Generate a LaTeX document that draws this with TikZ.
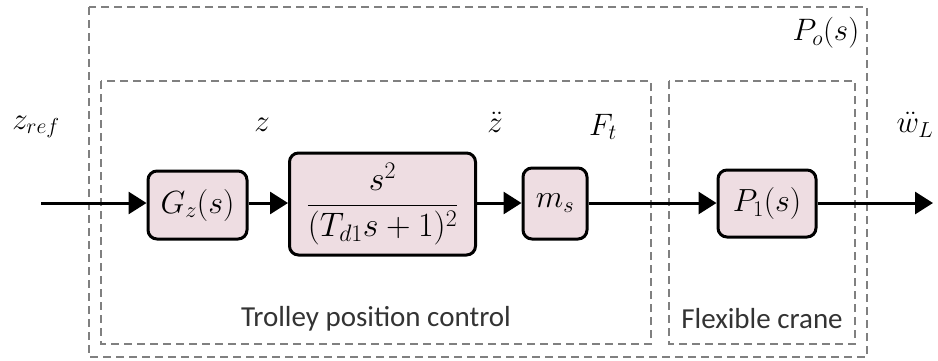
\RequirePackage{fix-cm}
\documentclass[tikz,border=0pt]{standalone}
\usepackage{fontspec}
\setmainfont{Carlito}
\usetikzlibrary{arrows.meta}
\definecolor{boxfill}{HTML}{EEDDE2}
\definecolor{grpgray}{HTML}{808080}
\tikzset{
  blk/.style={draw=black, line width=3pt, rounded corners=9pt, fill=boxfill, inner sep=0pt, font=\fontsize{32}{36}\selectfont},
  grp/.style={draw=grpgray, line width=1.6pt, dash pattern=on 8pt off 5pt},
  sig/.style={line width=3pt, -{Triangle[length=18pt,width=22pt]}},
  lbl/.style={font=\fontsize{31}{35}\selectfont, inner sep=0pt},
  grplbl/.style={font=\fontsize{29}{33}\selectfont, text=black!80, inner sep=0pt}
}
\begin{document}
\begin{tikzpicture}[x=1pt,y=-1pt]
\useasboundingbox (0,0) rectangle (938,360);
% group boxes
\draw[grp] (89,7) rectangle (867,357);
\draw[grp] (101,81) rectangle (651,344);
\draw[grp] (669,81) rectangle (855,344);
% blocks
\node[blk, minimum width=99pt, minimum height=68pt] (gz) at (197.5,205) {$G_z(s)$};
\node[blk, minimum width=186pt, minimum height=102pt, font=\fontsize{34}{38}\selectfont] (tf) at (382.5,204) {$\displaystyle\frac{s^2}{(T_{d1}s+1)^2}$};
\node[blk, minimum width=64pt, minimum height=71pt] (ms) at (555,203.5) {$m_s$};
\node[blk, minimum width=98pt, minimum height=67pt] (p1) at (767,203.5) {$P_1(s)$};
\coordinate (in) at (41,203);
\coordinate (out) at (933,203);
% connectors
\draw[sig] (in) -- (gz.west |- in);
\draw[sig] (gz.east |- in) -- (tf.west |- in);
\draw[sig] (tf.east |- in) -- (ms.west |- in);
\draw[sig] (ms.east |- in) -- (p1.west |- in);
\draw[sig] (p1.east |- in) -- (out);
% signal labels
\node[lbl] (lzref) at (36,127) {$z_{ref}$};
\node[lbl] (lz) at (262,125) {$z$};
\node[lbl] (lzdd) at (495,122) {$\ddot z$};
\node[lbl] (lft) at (603,127) {$F_t$};
\node[lbl] (lwl) at (915,125) {$\ddot w_L$};
\node[lbl] (lpo) at (826,33) {$P_o(s)$};
% group labels
\node[grplbl] (ltr) at (376,319) {Trolley position control};
\node[grplbl] (lfc) at (762,319) {Flexible crane};
\end{tikzpicture}
\end{document}
